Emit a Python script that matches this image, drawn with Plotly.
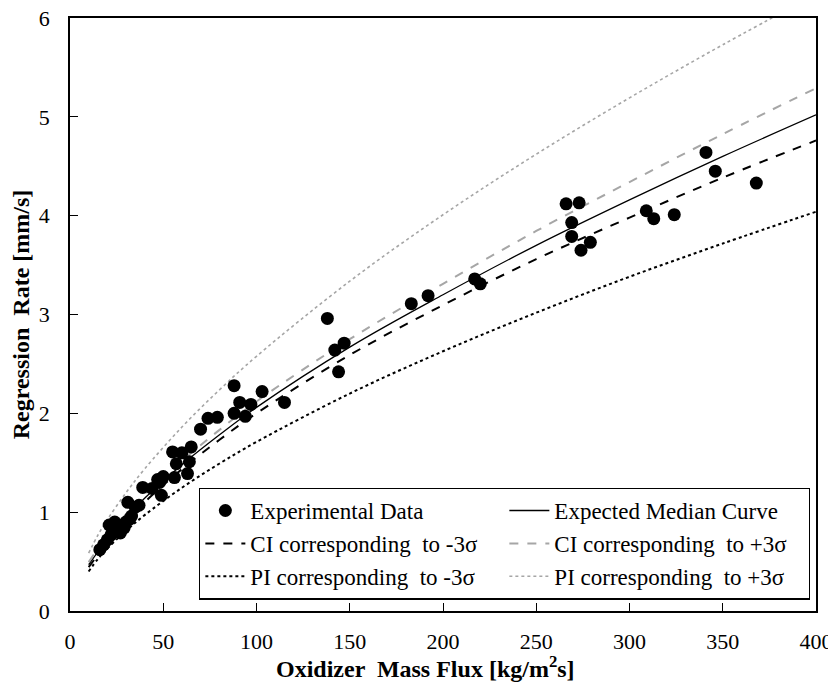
import plotly.graph_objects as go

exp_G = [16, 18, 20, 21, 22, 23, 24, 25, 26, 27, 28, 29, 30, 31, 32, 33, 35, 37, 39, 44,
         47, 48, 49, 50, 55, 56, 57, 60, 63, 64, 65, 70, 74, 79, 88, 88, 91, 94, 97,
         103, 115, 138, 142, 144, 147, 183, 192, 217, 220, 266, 269, 269, 273, 274,
         279, 309, 313, 324, 341, 346, 368]
exp_r = [0.62, 0.67, 0.72, 0.87, 0.77, 0.80, 0.90, 0.82, 0.85, 0.79, 0.87, 0.84, 0.90,
         1.10, 0.93, 0.96, 1.05, 1.07, 1.25, 1.24, 1.33, 1.30, 1.17, 1.36, 1.61, 1.35,
         1.49, 1.60, 1.39, 1.51, 1.66, 1.84, 1.95, 1.96, 2.28, 2.00, 2.11, 1.97, 2.09,
         2.22, 2.11, 2.96, 2.64, 2.42, 2.71, 3.11, 3.19, 3.36, 3.31, 4.12, 3.93, 3.79,
         4.13, 3.65, 3.73, 4.05, 3.97, 4.01, 4.64, 4.45, 4.33]

# Curves (values at these mass-flux values)
curve_G = [10, 15, 20, 30, 40, 60, 80, 100, 150, 200, 250, 300, 350, 400]
median_r = [0.47, 0.60, 0.73, 0.94, 1.14, 1.48, 1.78, 2.06, 2.67, 3.20, 3.70, 4.16, 4.60, 5.02]
ci_minus = [0.443, 0.570, 0.695, 0.904, 1.10, 1.435, 1.73, 2.00, 2.59, 3.095, 3.56, 3.98, 4.385, 4.76]
ci_plus = [0.495, 0.631, 0.760, 0.978, 1.18, 1.52, 1.83, 2.12, 2.75, 3.31, 3.845, 4.34, 4.825, 5.29]
pi_minus = [0.40, 0.528, 0.632, 0.811, 0.970, 1.247, 1.490, 1.711, 2.200, 2.628, 3.018, 3.382, 3.718, 4.04]
pi_plus = [0.585, 0.769, 0.924, 1.196, 1.437, 1.861, 2.235, 2.577, 3.337, 4.009, 4.622, 5.192, 5.729, 6.24]

x_ticks = [0, 50, 100, 150, 200, 250, 300, 350, 400]
y_ticks = [0, 1, 2, 3, 4, 5, 6]

FONT = "Liberation Serif"
GRAY = "#a6a6a6"

fig = go.Figure()

fig.add_trace(go.Scatter(x=curve_G, y=median_r, mode="lines", name="Expected Median Curve",
                         line=dict(color="black", width=1.3, shape="spline"), legendrank=2))
fig.add_trace(go.Scatter(x=curve_G, y=ci_minus, mode="lines", name="CI corresponding  to -3σ",
                         line=dict(color="black", width=2, dash="dash", shape="spline"), legendrank=3))
fig.add_trace(go.Scatter(x=curve_G, y=ci_plus, mode="lines", name="CI corresponding  to +3σ",
                         line=dict(color=GRAY, width=2, dash="dash", shape="spline"), legendrank=4))
fig.add_trace(go.Scatter(x=curve_G, y=pi_minus, mode="lines", name="PI corresponding  to -3σ",
                         line=dict(color="black", width=2, dash="dot", shape="spline"), legendrank=5))
fig.add_trace(go.Scatter(x=curve_G, y=pi_plus, mode="lines", name="PI corresponding  to +3σ",
                         line=dict(color=GRAY, width=1.6, dash="dot", shape="spline"), legendrank=6))
fig.add_trace(go.Scatter(x=exp_G, y=exp_r, mode="markers", name="Experimental Data",
                         marker=dict(color="black", size=13, symbol="circle"), legendrank=1))

fig.update_layout(
    width=828, height=676,
    margin=dict(l=62, r=20, t=10, b=73),
    paper_bgcolor="white", plot_bgcolor="white",
    font=dict(family=FONT, size=20, color="black"),
    showlegend=True,
    legend=dict(
        orientation="h",
        x=0.173, y=0.019, xanchor="left", yanchor="bottom",
        bgcolor="white", bordercolor="black", borderwidth=1.3,
        font=dict(family=FONT, size=23, color="black"),
        entrywidth=249, entrywidthmode="pixels",
        tracegroupgap=0, itemwidth=40,
    ),
    annotations=[dict(
        text="<b>Oxidizer  Mass Flux [kg/m<sup>2</sup>s]</b>",
        xref="paper", yref="paper", x=0.476, y=-0.0944,
        xanchor="center", yanchor="middle", showarrow=False,
        font=dict(family=FONT, size=24, color="black"),
    )],
)

fig.update_xaxes(
    range=[0, 400], tickvals=x_ticks, ticktext=[str(v) for v in x_ticks],
    ticks="inside", ticklen=8, tickwidth=1.3, tickcolor="black",
    showline=True, linecolor="black", linewidth=1.5, mirror=True,
    showgrid=False, zeroline=False, automargin=False,
    ticklabelstandoff=10, ticklabeloverflow="allow",
    tickfont=dict(family=FONT, size=22),
)
fig.update_yaxes(
    range=[0, 6], tickvals=y_ticks, ticktext=[str(v) for v in y_ticks],
    ticks="inside", ticklen=8, tickwidth=1.3, tickcolor="black",
    showline=True, linecolor="black", linewidth=1.5, mirror=True,
    showgrid=False, zeroline=False, automargin="left",
    ticklabelstandoff=14, ticklabeloverflow="allow",
    tickfont=dict(family=FONT, size=22),
    title=dict(text="<b>Regression  Rate [mm/s]</b>",
               font=dict(family=FONT, size=24), standoff=4),
)

fig.write_html("out.html")
